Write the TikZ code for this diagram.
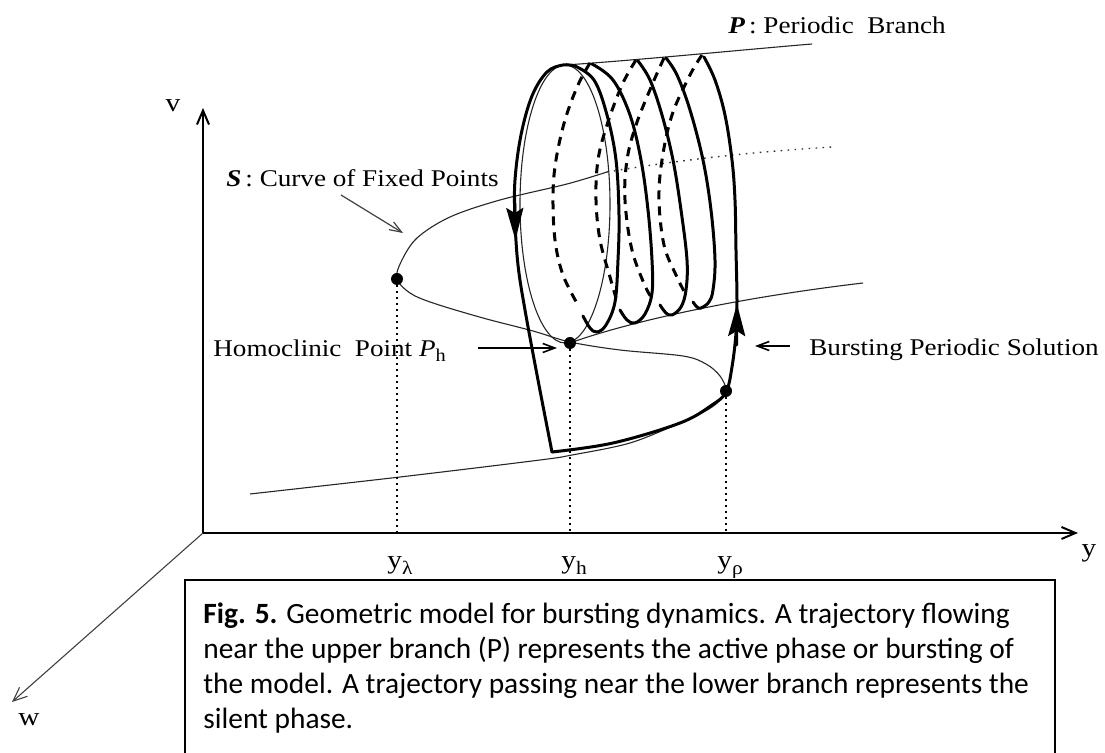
\documentclass[tikz,border=0pt]{standalone}
\usepackage{fontspec}
\setmainfont{Liberation Serif}
\newfontfamily\labfont[FakeStretch=1.13]{Liberation Serif}
\newfontfamily\capfont{Carlito}
\usetikzlibrary{arrows.meta}
\begin{document}
\begin{tikzpicture}[x=0.5pt,y=-0.5pt,
  axisline/.style={line width=1pt,{Straight Barb[length=7pt,width=6pt]}-{Straight Barb[length=7pt,width=6pt]}},
  waxis/.style={line width=0.55pt,black!75,-{Straight Barb[length=7pt,width=6pt]}},
  sline/.style={line width=0.55pt,black!85},
  sdots/.style={line width=0.7pt,black!80,dash pattern=on 0.8pt off 2.7pt},
  traj/.style={line width=1.5pt,line cap=round,line join=round},
  backarc/.style={line width=1.5pt,dash pattern=on 4.5pt off 3.5pt},
  guide/.style={line width=1pt,dash pattern=on 1pt off 2pt},
  fdot/.style={circle,fill=black,inner sep=0pt,minimum size=6pt},
  ptr/.style={line width=0.8pt,-{Straight Barb[length=6pt,width=4.5pt]}},
  lbl/.style={font=\labfont\fontsize{12}{14}\selectfont,inner sep=0pt,anchor=base west},
  axl/.style={font=\labfont\fontsize{13}{15}\selectfont,inner sep=0pt},
  captxt/.style={font=\capfont\fontsize{14.7}{17.5}\selectfont,inner sep=0pt,anchor=base west},
  bigtip/.style={-{Stealth[length=16pt,width=8.5pt,inset=2.5pt]}}
]
\useasboundingbox (0,0) rectangle (1105,753);
\clip (0,0) rectangle (1105,753);

% ---- axes ----
\coordinate (O) at (203,533);
\coordinate (vtip) at (203,108);
\coordinate (ytip) at (1078,533);
\coordinate (wtip) at (12,702);
\draw[axisline] (vtip) -- (O) -- (ytip);
\draw[waxis] (O) -- (wtip);
\node[axl] (vl) at (173,106) {v};
\node[axl] (wl) at (29,720) {w};
\node[axl] (yl) at (1089,553) {y};

% ---- S curve of fixed points ----
\draw[sline] plot[smooth,tension=0.55] coordinates {(607,172) (567,184) (500,200) (450,217) (417,238) (401,262) (397,279) (410,293) (433,303) (483,318) (533,331) (570,342) (620,350) (683,356) (706,364) (720,376) (726,391) (716,404) (700,414) (680,423) (630,443) (572,455) (540,460) (400,477) (250,494)};
\draw[sdots] (607,172) .. controls (680,160) and (750,152) .. (832,147);

% ---- periodic branch tube ----
\draw[sline] (565,65) .. controls (640,60) and (740,50) .. (812,44);
\draw[sline] (570,343) .. controls (620,325) and (720,300) .. (863,283);
\draw[sline] (565,204) ellipse [x radius=22.5pt,y radius=69.5pt];

% ---- dots ----
\node[fdot] (fl) at (397,279) {};
\node[fdot] (hp) at (570,343) {};
\node[fdot] (rp) at (726,391) {};
\draw[guide] (fl.center) -- (fl.center |- O);
\draw[guide] (hp.center) -- (hp.center |- O);
\draw[guide] (rp.center) -- (rp.center |- O);

% ---- back (dashed) arcs ----
\draw[backarc] plot[smooth,tension=0.6] coordinates {(590,63) (578,85) (565,120) (556,160) (553,195) (555,240) (563,275) (578,305)};
\draw[backarc] plot[smooth,tension=0.6] coordinates {(636,60) (622,85) (607,125) (598,160) (596,200) (600,240) (610,277) (616,298)};
\draw[backarc] plot[smooth,tension=0.6] coordinates {(664,58) (652,85) (636,125) (627,160) (625,200) (632,250) (647,290) (655,300)};
\draw[backarc] plot[smooth,tension=0.6] coordinates {(702,55) (690,75) (672,115) (662,160) (659,200) (664,245) (676,275) (686,295)};

% ---- front (solid) arcs ----
\draw[traj] plot[smooth,tension=0.6] coordinates {(583,316) (590,328) (597,332) (606,325) (615,302) (618,260) (619,215) (616,160) (607,115) (594,80) (575,66)};
\draw[traj] plot[smooth,tension=0.6] coordinates {(620,310) (627,320) (635,323) (645,314) (652,293) (652,260) (648,210) (641,160) (630,115) (613,80) (592,64)};
\draw[traj] plot[smooth,tension=0.6] coordinates {(660,305) (666,313) (672,315) (681,307) (686,290) (687,260) (681,210) (673,160) (662,115) (650,80) (638,61)};
\draw[traj] plot[smooth,tension=0.6] coordinates {(693,302) (697,307) (701,308) (709,302) (713,290) (715,260) (711,210) (703,160) (690,110) (677,75) (666,58)};

% ---- main trajectory ----
\draw[traj] plot[smooth,tension=0.6] coordinates {(575,66) (563,65) (547,72) (532,96) (521,135) (515,180) (515,220) (518,265) (525,310) (538,380) (552,452)};
\draw[traj] plot[smooth,tension=0.6] coordinates {(552,452) (613,443) (680,423) (712,405) (726,392) (732,367) (736,333) (737,300) (736,250) (735,200) (732,160) (725,115) (715,80) (704,57)};
\draw[traj,bigtip] (514.6,195) -- (515.4,240);
\draw[traj,bigtip] (736.6,345) -- (737,304);

% ---- labels ----
\node[lbl] (plab) at (728,34) {\textbf{\textit{P}}\,: Periodic\ \ Branch};
\node[lbl] (slab) at (226,187) {\textbf{\textit{S}}\,: Curve of Fixed Points};
\node[lbl] (hlab) at (213,357) {Homoclinic\ \ Point \textit{P}\raisebox{-0.4ex}{\fontsize{9}{9}\selectfont h}};
\node[lbl] (blab) at (809,356) {Bursting Periodic Solution};

\coordinate (sp0) at (341,195);
\coordinate (sp1) at (403,233);
\draw[ptr,black!75,line width=0.6pt] (sp0) -- (sp1);
\coordinate (hp0) at (478,348);
\coordinate (hp1) at (557,348);
\draw[ptr] (hp0) -- (hp1);
\coordinate (bp0) at (790,346);
\coordinate (bp1) at (755,346);
\draw[ptr] (bp0) -- (bp1);

% ---- tick labels ----
\node[axl,anchor=base west] (tl) at (387,569) {y\raisebox{-0.5ex}{\fontsize{9.5}{9.5}\selectfont λ}};
\node[axl,anchor=base west] (th) at (561,569) {y\raisebox{-0.5ex}{\fontsize{9.5}{9.5}\selectfont h}};
\node[axl,anchor=base west] (tr) at (717,569) {y\raisebox{-0.5ex}{\fontsize{9.5}{9.5}\selectfont ρ}};

% ---- caption ----
\draw[line width=1pt] (185,770) -- (185,580) -- (1055,580) -- (1055,770);
\node[captxt] (c1) at (203,624) {\textbf{Fig. 5.} Geometric model for bursting dynamics. A trajectory flowing};
\node[captxt] (c2) at (203,659) {near the upper branch (P) represents the active phase or bursting of};
\node[captxt] (c3) at (203,694) {the model. A trajectory passing near the lower branch represents the};
\node[captxt] (c4) at (203,729) {silent phase.};
\end{tikzpicture}
\end{document}
